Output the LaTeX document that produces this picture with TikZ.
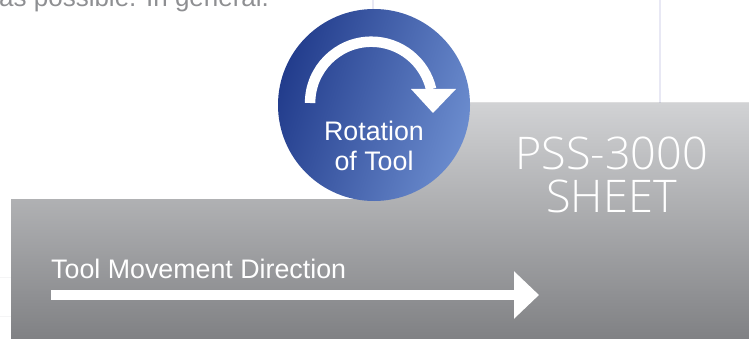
\documentclass[tikz,border=0pt]{standalone}
\usepackage{fontspec}
\setmainfont{Liberation Sans}
\newfontfamily\thinfont{Open Sans Light}
\usetikzlibrary{arrows.meta,positioning}
\definecolor{sheetTop}{HTML}{D1D2D4}
\definecolor{sheetBot}{HTML}{808184}
\definecolor{toolDark}{HTML}{223C8C}
\definecolor{toolMid}{HTML}{3F5BA2}
\definecolor{toolLight}{HTML}{6B8CCE}
\definecolor{rule}{HTML}{E8E8F4}
\definecolor{faint}{HTML}{F5F5F6}
\definecolor{bodytext}{HTML}{8E8F92}
\tikzset{
  sheet/.style={top color=sheetTop,bottom color=sheetBot,draw=none},
  tool/.style={circle,minimum size=192pt,inner sep=0pt,left color=toolDark,middle color=toolMid,right color=toolLight,shading angle=72,draw=none},
  lbl/.style={text=white,inner sep=0pt,align=center},
  rotline/.style={draw=white,line width=10.5pt},
  moveline/.style={draw=white,line width=10.5pt,-{Triangle[length=25pt,width=46pt]}},
  pagerule/.style={draw=rule,line width=1.5pt},
  faintrule/.style={draw=faint,line width=1pt}
}
\begin{document}
\begin{tikzpicture}[x=1pt,y=-1pt]
	\useasboundingbox (0,0) rectangle (749,339);
	% page behind
	\coordinate (ruleA) at (660,0);
	\coordinate (ruleAend) at (660,103);
	\coordinate (ruleB) at (373,0);
	\coordinate (ruleBend) at (373,12);
	\coordinate (faintA) at (0,277);
	\coordinate (faintAend) at (11,277);
	\coordinate (faintB) at (0,316);
	\coordinate (faintBend) at (11,316);
	\draw[pagerule] (ruleA) -- (ruleAend);
	\draw[pagerule] (ruleB) -- (ruleBend);
	\draw[faintrule] (faintA) -- (faintAend);
	\draw[faintrule] (faintB) -- (faintBend);
	\node[anchor=base west,inner sep=0pt,text=bodytext,font=\fontsize{26}{30}\selectfont] (body) at (-1,7) {as possible. In general.};
	
	% sheet
	\fill[sheet] (11,339) -- (11,199) -- (374,199) -- (374,103) -- (749,103) -- (749,339) -- cycle;
	
	\node[tool] (rot) at (374,105) {};
	\coordinate (rotstart) at (310.1,103);
	\draw[rotline] (rotstart) arc[start angle=180,end angle=13,radius=61.3pt] coordinate (rotend);
	\fill[white] (411,89) -- (456,89) -- (433,113) -- cycle;
	\node[lbl,font=\fontsize{26.8}{30}\selectfont] (rotlabel) at (374,146) {Rotation\\of Tool};
	
	\node[lbl,font=\thinfont\fontsize{45}{43}\selectfont] (pss) at (611.5,175) {PSS-3000\\SHEET};
	
	\coordinate (movestart) at (51,295);
	\coordinate (moveend) at (539,295);
	\draw[moveline] (movestart) -- (moveend);
	\node[lbl,anchor=base west,font=\fontsize{26.8}{30}\selectfont] (movelabel) at (51,278) {Tool Movement Direction};
\end{tikzpicture}
\end{document}
